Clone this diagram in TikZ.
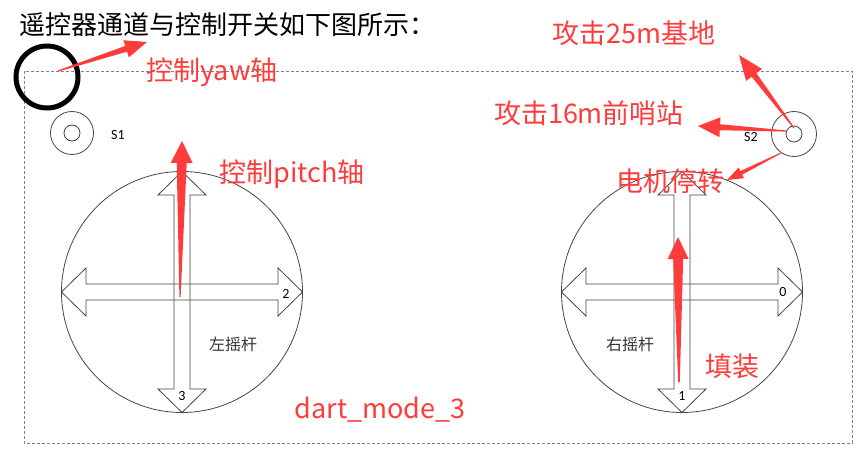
\documentclass[tikz,border=0pt]{standalone}
\usepackage{fontspec}
\setmainfont{Noto Sans CJK SC}
\newfontfamily\cjkfont{Noto Sans CJK SC}
\newfontfamily\calibrifont{Carlito}
\usetikzlibrary{calc}
\definecolor{annred}{RGB}{255,60,60}
\definecolor{stick}{RGB}{70,70,70}
\definecolor{frame}{RGB}{130,130,130}
% #1 start, #2 tip, #3 tail half, #4 shaft half, #5 head half, #6 head length
\newcommand\redarrow[6]{%
  \path ($(#2)!#6!(#1)$) coordinate (hb);
  \fill[annred] ($(#1)!#3!90:(#2)$) -- ($(hb)!#4!90:(#2)$) -- ($(hb)!#5!90:(#2)$) -- (#2)
    -- ($(hb)!#5!-90:(#2)$) -- ($(hb)!#4!-90:(#2)$) -- ($(#1)!#3!-90:(#2)$) -- cycle;}
\newcommand\joystick[1]{%
  \begin{scope}[shift={#1}]
    \draw[stick, line width=0.8pt] (0,0) circle (120.5);
    \draw[stick, line width=0.8pt] (-120.5,0) -- (-96,-24) -- (-96,-8) -- (96,-8) -- (96,-24) -- (120.5,0)
      -- (96,24) -- (96,8) -- (-96,8) -- (-96,24) -- cycle;
    \draw[stick, line width=0.8pt] (0,-120.5) -- (-24,-97) -- (-8,-97) -- (-8,97) -- (-24,97) -- (0,120.5)
      -- (24,97) -- (8,97) -- (8,-97) -- (24,-97) -- cycle;
  \end{scope}}
\tikzset{
  redtxt/.style={text=annred, font=\cjkfont\fontsize{27}{31}\selectfont, inner sep=0pt},
  smalllbl/.style={font=\calibrifont\fontsize{14}{16}\selectfont, inner sep=0pt},
  sticklbl/.style={font=\cjkfont\fontsize{16}{18}\selectfont, text=black!80, inner sep=0pt},
}
\begin{document}
\begin{tikzpicture}[x=1pt,y=-1pt]
\useasboundingbox (0,0) rectangle (863,460);
\fill[white] (0,0) rectangle (863,460);
% title
\node[anchor=west, inner sep=0pt, font=\cjkfont\fontsize{26}{30}\selectfont] (title) at (19,25) {遥控器通道与控制开关如下图所示：};
% frame
\draw[frame, dashed, dash pattern=on 3pt off 2pt, line width=0.8pt] (24,71) rectangle (852,443);
% black highlight circle
\draw[black, line width=5pt] (47,77) circle (31);
% switches
\draw[stick, line width=0.8pt] (72,133) circle (21.5) (72,133) circle (8);
\node[smalllbl] (s1) at (118,135) {S1};
\draw[stick, line width=0.8pt] (794,134) circle (22.5) (794,134) circle (8);
\node[smalllbl] (s2) at (751,137) {S2};
% joysticks
\joystick{(182,292)}
\joystick{(682,292)}
\node[smalllbl] (n2) at (286,294) {2};
\node[smalllbl] (n3) at (182,396) {3};
\node[sticklbl] (lstick) at (233,344) {左摇杆};
\node[smalllbl] (n0) at (783,292) {0};
\node[smalllbl] (n1) at (682,396) {1};
\node[sticklbl] (rstick) at (630,344) {右摇杆};
% red annotation texts
\node[redtxt] (yaw) at (212,72) {控制yaw轴};
\node[redtxt] (pitch) at (292,174) {控制pitch轴};
\node[redtxt] (t25) at (634,33) {攻击25m基地};
\node[redtxt] (t16) at (589,113) {攻击16m前哨站};
\node[redtxt] (stop) at (670,181) {电机停转};
\node[redtxt] (fill) at (732,366) {填装};
\node[redtxt] (mode) at (380,410) {dart\_mode\_3};
% arrow anchors
\coordinate (yawS) at (58,71);   \coordinate (yawT) at (147,42);
\coordinate (pitS) at (180,297); \coordinate (pitT) at (182,141);
\coordinate (aS) at (794,128);   \coordinate (aT) at (739,55);
\coordinate (bS) at (786,131);   \coordinate (bT) at (698,126);
\coordinate (cS) at (781,153);   \coordinate (cT) at (727,180);
\coordinate (dS) at (679,382);   \coordinate (dT) at (678,237);
\redarrow{yawS}{yawT}{0.6pt}{3pt}{9pt}{22pt}
\redarrow{pitS}{pitT}{0.6pt}{5pt}{11pt}{22pt}
\redarrow{aS}{aT}{0.6pt}{3pt}{10pt}{25pt}
\redarrow{bS}{bT}{0.6pt}{3pt}{10pt}{22pt}
\redarrow{cS}{cT}{0.5pt}{2pt}{6pt}{16pt}
\redarrow{dS}{dT}{0.8pt}{5pt}{10.5pt}{22pt}
\end{tikzpicture}
\end{document}
